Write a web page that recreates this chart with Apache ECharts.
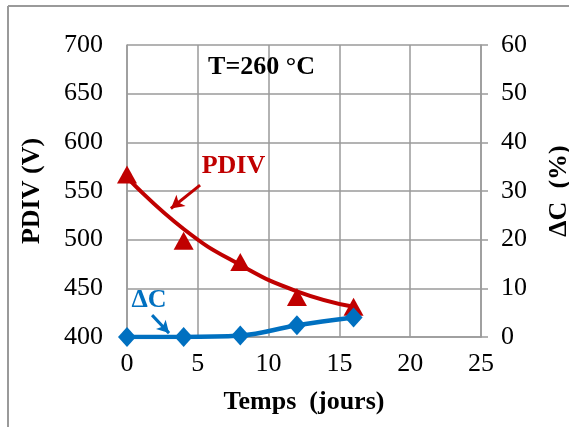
<!DOCTYPE html>
<html>
<head>
<meta charset="utf-8">
<script src="https://cdn.jsdelivr.net/npm/echarts@6/dist/echarts.min.js"></script>
<style>
  html, body { margin: 0; padding: 0; background: #fff; }
  #main { width: 569px; height: 427px; }
</style>
</head>
<body>
<div id="main"></div>
<script>
// données
var jours = [0, 4, 8, 12, 16];
var pdiv = [567, 499, 477, 441, 431];          // PDIV (V), triangles
var pdivTendance = [564, 511, 474, 447, 431];  // courbe de tendance rouge
var deltaC = [0, 0, 0.3, 2.4, 4];              // ΔC (%), losanges

var rouge = '#C00000';
var bleu = '#0070C0';
var gris = '#9a9a9a';
var police = '"Liberation Serif", "Times New Roman", serif';

function paires(xs, ys) {
  return xs.map(function (x, i) { return [x, ys[i]]; });
}

var myChart = echarts.init(document.getElementById('main'));

var option = {
  animation: false,
  backgroundColor: '#fff',
  textStyle: { fontFamily: police },
  graphic: [{
    type: 'line',
    shape: { x1: 8, y1: 6, x2: 569, y2: 6 },
    style: { stroke: gris, lineWidth: 2 },
    silent: true
  }, {
    type: 'line',
    shape: { x1: 8, y1: 6, x2: 8, y2: 427 },
    style: { stroke: gris, lineWidth: 2 },
    silent: true
  }],
  grid: { left: 127, right: 88, top: 45, bottom: 90, outerBoundsMode: 'none', containLabel: false },
  xAxis: {
    type: 'value',
    min: 0, max: 25, interval: 5,
    name: 'Temps  (jours)',
    nameLocation: 'middle',
    nameGap: 52,
    nameTextStyle: { fontSize: 26, fontWeight: 'bold', color: '#000', fontFamily: police },
    axisLine: { show: true, lineStyle: { color: gris, width: 1.5 } },
    axisTick: { show: false },
    axisLabel: { fontSize: 26, color: '#000', margin: 14, fontFamily: police },
    splitLine: { show: true, lineStyle: { color: gris, width: 1.5 } }
  },
  yAxis: [{
    type: 'value',
    min: 400, max: 700, interval: 50,
    name: 'PDIV (V)',
    nameLocation: 'middle',
    nameRotate: 90,
    nameGap: 82,
    nameTextStyle: { fontSize: 26, fontWeight: 'bold', color: '#000', fontFamily: police },
    axisLine: { show: true, lineStyle: { color: gris, width: 1.5 } },
    axisTick: { show: false },
    axisLabel: { fontSize: 26, color: '#000', margin: 24, fontFamily: police },
    splitLine: { show: true, lineStyle: { color: gris, width: 1.5 } }
  }, {
    type: 'value',
    position: 'right',
    min: 0, max: 60, interval: 10,
    name: 'ΔC  (%)',
    nameLocation: 'middle',
    nameRotate: 90,
    nameGap: 65,
    nameTextStyle: { fontSize: 26, fontWeight: 'bold', color: '#000', fontFamily: police },
    axisLine: { show: true, lineStyle: { color: gris, width: 1.5 } },
    axisTick: { show: true, length: 7, lineStyle: { color: gris, width: 1.5 } },
    axisLabel: { fontSize: 26, color: '#000', margin: 20, fontFamily: police },
    splitLine: { show: false }
  }],
  series: [{
    name: 'PDIV tendance',
    type: 'line',
    yAxisIndex: 0,
    smooth: true,
    showSymbol: false,
    data: paires(jours, pdivTendance),
    lineStyle: { color: rouge, width: 4 },
    itemStyle: { color: rouge },
    z: 2
  }, {
    name: 'PDIV',
    type: 'scatter',
    yAxisIndex: 0,
    symbol: 'triangle',
    symbolSize: [20, 18],
    data: paires(jours, pdiv),
    itemStyle: { color: rouge, opacity: 1 },
    z: 3,
    markPoint: {
      symbol: 'circle',
      symbolSize: 1,
      itemStyle: { color: 'transparent' },
      data: [{
        coord: [9.5, 677],
        label: { show: true, position: 'inside', formatter: 'T=260 °C', fontSize: 26, fontWeight: 'bold', color: '#000', fontFamily: police }
      }, {
        coord: [7.52, 575],
        label: { show: true, position: 'inside', formatter: 'PDIV', fontSize: 26, fontWeight: 'bold', color: rouge, fontFamily: police }
      }]
    },
    markLine: {
      silent: true,
      symbol: ['none', 'arrow'],
      symbolSize: [11, 13],
      label: { show: false },
      lineStyle: { color: rouge, width: 3, type: 'solid' },
      data: [[{ coord: [5.16, 556] }, { coord: [3.1, 532] }]]
    }
  }, {
    name: 'ΔC',
    type: 'line',
    yAxisIndex: 1,
    smooth: 0.4,
    symbol: 'diamond',
    symbolSize: [18, 20],
    data: paires(jours, deltaC),
    lineStyle: { color: bleu, width: 4.5 },
    itemStyle: { color: bleu },
    z: 4,
    markPoint: {
      symbol: 'circle',
      symbolSize: 1,
      itemStyle: { color: 'transparent' },
      data: [{
        coord: [1.55, 7.6],
        label: { show: true, position: 'inside', formatter: 'ΔC', fontSize: 26, fontWeight: 'bold', color: bleu, fontFamily: police }
      }]
    },
    markLine: {
      silent: true,
      symbol: ['none', 'arrow'],
      symbolSize: [10, 12],
      label: { show: false },
      lineStyle: { color: bleu, width: 3, type: 'solid', curveness: -0.15 },
      data: [[{ coord: [1.77, 4.5] }, { coord: [2.97, 0.8] }]]
    }
  }]
};

myChart.setOption(option);
</script>
</body>
</html>
